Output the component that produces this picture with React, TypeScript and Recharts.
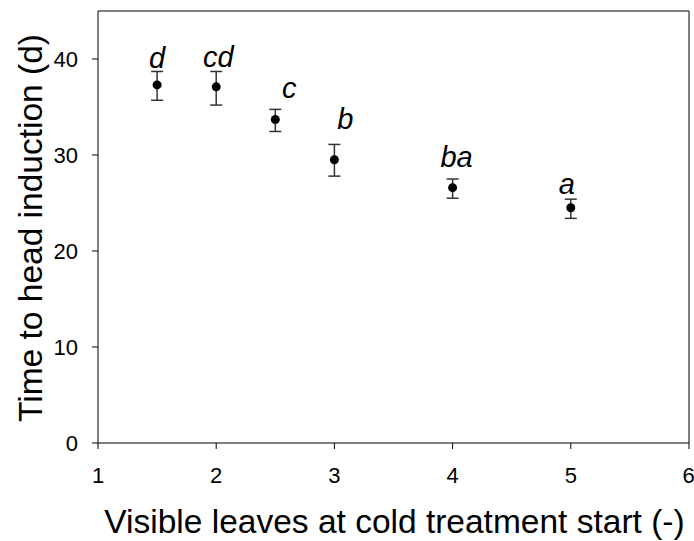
import React from 'react';
import { ScatterChart, Scatter, XAxis, YAxis, ErrorBar, ReferenceLine, Label } from 'recharts';

// visible leaves at start of cold treatment
const leaves = [1.5, 2, 2.5, 3, 4, 5];
// mean time to head induction (days)
const days = [37.3, 37.1, 33.7, 29.5, 26.6, 24.5];
const errLow = [1.6, 1.9, 1.25, 1.7, 1.1, 1.1];
const errHigh = [1.4, 1.6, 1.05, 1.6, 0.9, 0.9];
const letters = ['d', 'cd', 'c', 'b', 'ba', 'a'];

const xTicks = [1, 2, 3, 4, 5, 6];
const yTicks = [0, 10, 20, 30, 40];

// pixel nudges for the significance letters, relative to the point
const letterNudge = [[0, -17], [2, -20], [14, -21], [11, -31], [4, -21], [-4, -14]];

const FONT = 'Liberation Sans, Arial, sans-serif';

const data = leaves.map((x, i) => ({ x, y: days[i], err: [errLow[i], errHigh[i]], letter: letters[i], i }));

const Dot = (props: any) => {
    const { cx, cy, payload } = props;
    const [dx, dy] = letterNudge[payload.i];
    return (
        <g>
            <circle cx={cx} cy={cy} r={4.5} fill="#000" />
            <text x={cx + dx} y={cy + dy} textAnchor="middle" fontFamily={FONT} fontStyle="italic" fontSize={29} fill="#000">
                {payload.letter}
            </text>
        </g>
    );
};

export default function App() {
    const tickStyle = { fontSize: 22, fill: '#000', fontFamily: FONT };
    return (
        <div style={{ position: 'fixed', left: 0, top: 0, background: '#fff' }}>
            <ScatterChart width={694} height={541} margin={{ top: 11, right: 5, bottom: 0, left: 0 }}>
                <XAxis
                    type="number"
                    dataKey="x"
                    domain={[1, 6]}
                    ticks={xTicks}
                    height={98}
                    tickSize={6}
                    tickMargin={18}
                    tick={tickStyle}
                    stroke="#000"
                    axisLine={{ stroke: '#000' }}
                    tickLine={{ stroke: '#000' }}
                >
                    <Label
                        content={({ viewBox }: any) => (
                            <text x={viewBox.x + viewBox.width / 2 + 1} y={viewBox.y + 90} textAnchor="middle" fontFamily={FONT} fontSize={33.5} fill="#000">
                                Visible leaves at cold treatment start (-)
                            </text>
                        )}
                    />
                </XAxis>
                <YAxis
                    type="number"
                    dataKey="y"
                    domain={[0, 45]}
                    ticks={yTicks}
                    width={98}
                    tickSize={6}
                    tickMargin={14}
                    tick={tickStyle}
                    stroke="#000"
                    axisLine={{ stroke: '#000' }}
                    tickLine={{ stroke: '#000' }}
                >
                    <Label
                        content={({ viewBox }: any) => {
                            const cx = 42;
                            const cy = viewBox.y + viewBox.height / 2 + 1;
                            return (
                                <text x={cx} y={cy} transform={`rotate(-90, ${cx}, ${cy})`} textAnchor="middle" fontFamily={FONT} fontSize={33.5} fill="#000">
                                    Time to head induction (d)
                                </text>
                            );
                        }}
                    />
                </YAxis>
                <ReferenceLine x={6} stroke="#000" />
                <ReferenceLine y={45} stroke="#000" />
                <Scatter data={data} shape={<Dot />} isAnimationActive={false}>
                    <ErrorBar dataKey="err" direction="y" width={6} stroke="#333" strokeWidth={1.5} />
                </Scatter>
            </ScatterChart>
        </div>
    );
}
